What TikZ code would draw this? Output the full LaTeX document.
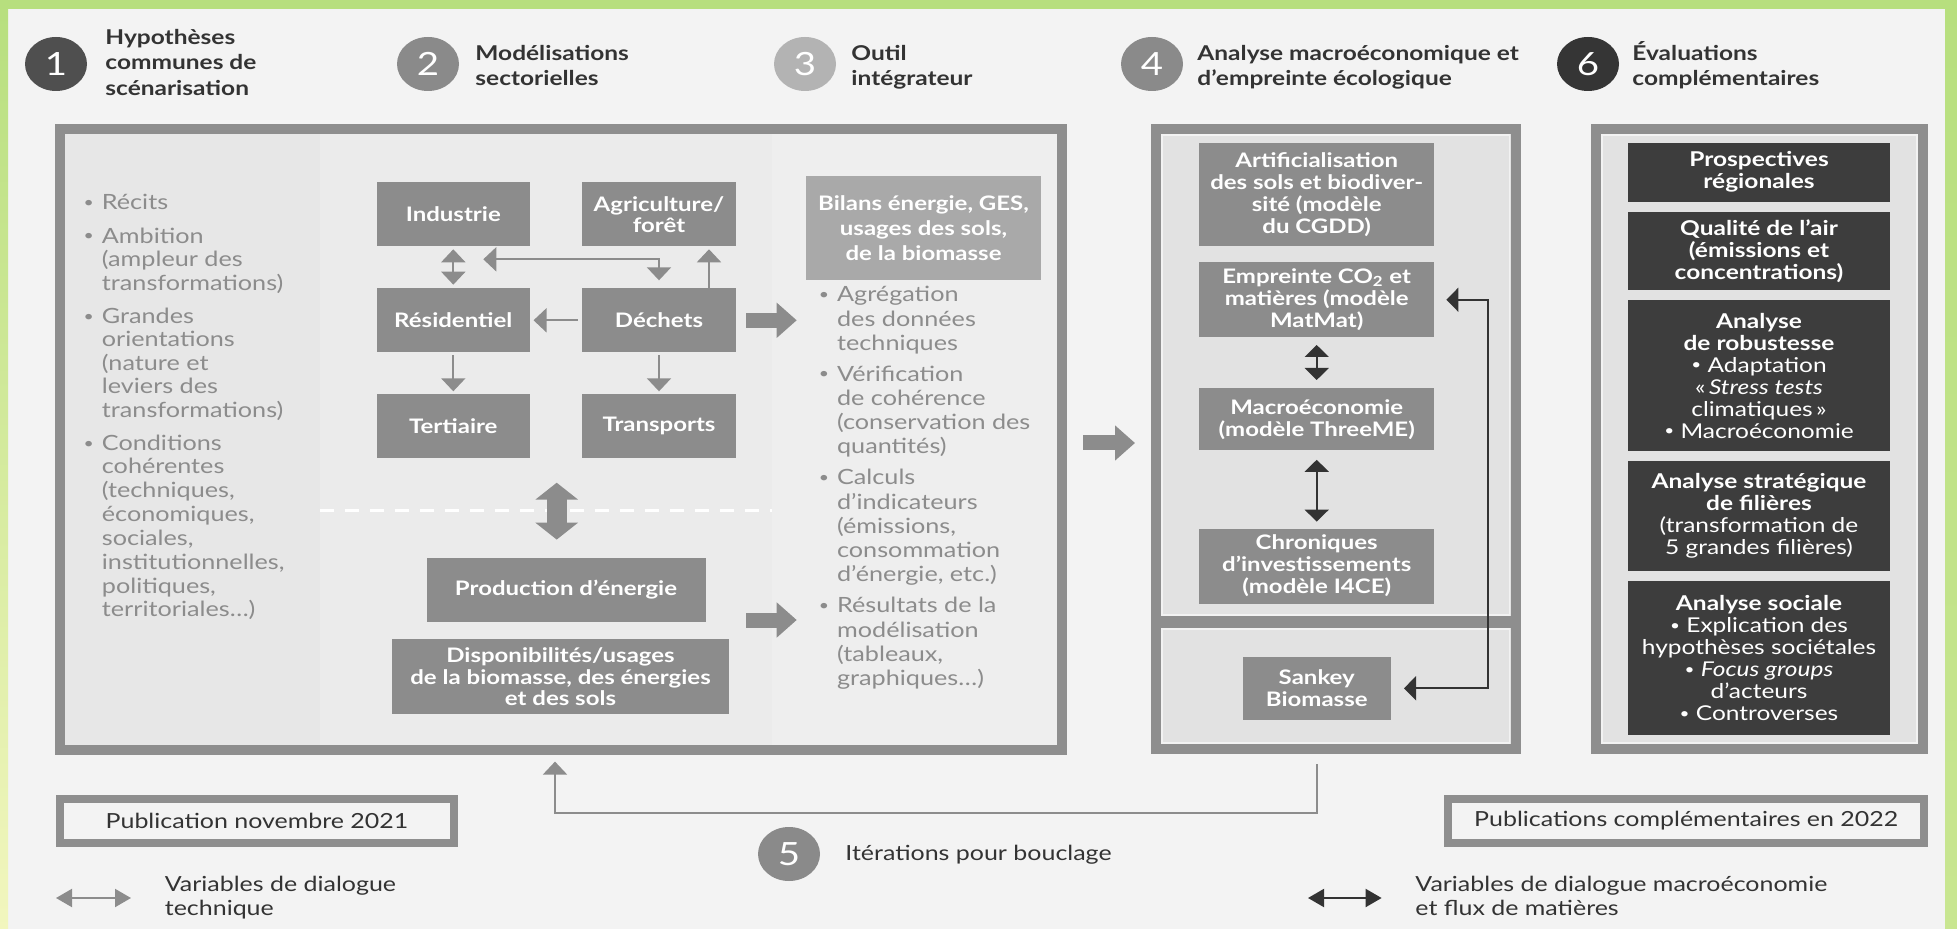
\documentclass[tikz,border=0pt]{standalone}
\usepackage{fontspec}
\setmainfont{Lato}[FakeStretch=1.2]
\usetikzlibrary{arrows.meta,shapes.geometric}
\definecolor{bggray}{HTML}{F3F3F3}
\definecolor{green1}{HTML}{B7DF7E}
\definecolor{yel1}{HTML}{F2F6BE}
\definecolor{framegray}{HTML}{8E8E8E}
\definecolor{boxgray}{HTML}{8C8C8C}
\definecolor{lightbox}{HTML}{A9A9A9}
\definecolor{darkbox}{HTML}{3D3D3D}
\definecolor{listgray}{HTML}{8C8C8C}
\definecolor{headtext}{HTML}{333333}
\definecolor{inner1}{HTML}{EBEBEB}
\definecolor{innerL}{HTML}{E7E7E7}
\definecolor{innerR}{HTML}{EEEEEE}
\definecolor{inner4}{HTML}{E2E2E2}
\definecolor{innerline}{HTML}{F2F2F2}
\definecolor{darkarrow}{HTML}{333333}
\definecolor{c1col}{HTML}{4F4F4F}
\definecolor{c2col}{HTML}{8A8A8A}
\definecolor{c3col}{HTML}{B3B3B3}
\definecolor{c6col}{HTML}{353535}
\newcommand{\fs}[2]{\fontsize{#1}{#2}\selectfont}
\newcommand{\bul}{\raisebox{0.12em}{\scalebox{0.7}{•}}}
\newcommand{\lb}{\llap{\bul\hspace{4pt}}}
\begin{document}
\begin{tikzpicture}[x=0.5pt,y=-0.5pt,
  numcirc/.style={ellipse, minimum width=31pt, minimum height=27pt, inner sep=0pt, text=white, font=\fs{16}{16}},
  headtxt/.style={anchor=base west, inner sep=0pt, text=headtext, font=\bfseries\fs{10.2}{12}},
  lst/.style={anchor=base west, inner sep=0pt, text=listgray, font=\fs{10.5}{12}},
  legtxt/.style={anchor=base west, inner sep=0pt, text=headtext, font=\fs{10.4}{12}},
  frame/.style={draw=framegray, line width=5pt, inner sep=0pt},
  pubbox/.style={draw=framegray, line width=4pt, inner sep=0pt, text=headtext, font=\fs{10.4}{12}, minimum height=21.85pt},
  box/.style={inner sep=0pt, align=center, text=white, font=\bfseries\fs{10}{10.8}},
  sect/.style={box, fill=boxgray, minimum width=76.65pt, minimum height=32pt},
  m4/.style={box, fill=boxgray, minimum width=117.7pt, font=\bfseries\fs{10}{11}},
  d6/.style={box, fill=darkbox, minimum width=131pt, font=\fs{10.2}{11}},
  garr/.style={draw=boxgray, line width=1pt, >={Triangle[width=12pt,length=6.5pt]}},
  darr/.style={draw=darkarrow, line width=1pt, >={Triangle[width=12pt,length=6pt]}},
  boldarr/.style={draw=boxgray, line width=7.5pt, -{Triangle[width=17pt,length=10pt]}},
  bigdbl/.style={draw=boxgray, line width=10pt, {Triangle[width=21pt,length=8.5pt]}-{Triangle[width=21pt,length=8.5pt]}}
]
% background and green frame
\fill[bggray] (0,0) rectangle (1957,929);
\useasboundingbox (0,0) rectangle (1957,929);
\shade[top color=green1, bottom color=yel1] (0,0) rectangle (8,929);
\shade[top color=green1, bottom color=green1!70!yel1] (1945,0) rectangle (1957,929);
\fill[green1] (0,0) rectangle (1957,9);

% header
\node[numcirc, fill=c1col] (c1) at (56,64) {1};
\node[headtxt] (h1a) at (105,44.5) {Hypothèses};
\node[headtxt] (h1b) at (105,70) {communes de};
\node[headtxt] (h1c) at (105,95.5) {scénarisation};
\node[numcirc, fill=c2col] (c2) at (428,64) {2};
\node[headtxt] (h2a) at (475,60.5) {Modélisations};
\node[headtxt] (h2b) at (475,86) {sectorielles};
\node[numcirc, fill=c3col] (c3) at (805,64) {3};
\node[headtxt] (h3a) at (851,60.5) {Outil};
\node[headtxt] (h3b) at (851,86) {intégrateur};
\node[numcirc, fill=c2col] (c4) at (1152,64) {4};
\node[headtxt] (h4a) at (1197,60.5) {Analyse macroéconomique et};
\node[headtxt] (h4b) at (1197,86) {d’empreinte écologique};
\node[numcirc, fill=c6col] (c6) at (1588,64) {6};
\node[headtxt] (h6a) at (1632,60.5) {Évaluations};
\node[headtxt] (h6b) at (1632,86) {complémentaires};

% big box
\node[frame, fill=inner1, minimum width=501pt, minimum height=310.5pt] (bb) at (561,439.5) {};
\fill[innerL] (65,134) rectangle (320,745);
\fill[innerR] (772,134) rectangle (1057,745);

% box 4 and box 6
\node[frame, fill=inner4, minimum width=179.75pt, minimum height=310pt] (b4) at (1335.75,439) {};
\draw[innerline, line width=0.8pt] (1162,135) rectangle (1509.5,615);
\draw[innerline, line width=0.8pt] (1162,629) rectangle (1509.5,743);
\draw[framegray, line width=6pt] (1151,622) -- (1520.5,622);
\node[frame, fill=inner4, minimum width=163.5pt, minimum height=310pt] (b6) at (1759.5,439) {};
\draw[innerline, line width=0.8pt] (1602,135) rectangle (1917,743);

% left list
\foreach \yy/\txt [count=\i] in {210/{\lb Récits}, 243.4/{\lb Ambition}, 266.8/{(ampleur des}, 290.2/{transformations)},
  323.6/{\lb Grandes}, 347/{orientations}, 370.4/{(nature et}, 393.8/{leviers des}, 417.2/{transformations)},
  450.6/{\lb Conditions}, 474/{cohérentes}, 497.8/{(techniques,}, 521.6/{économiques,}, 545.4/{sociales,},
  569.2/{institutionnelles,}, 593/{politiques,}, 616.8/{territoriales…)}}
  \node[lst] (L\i) at (101.5,\yy) {\txt};

% outil list
\foreach \yy/\txt [count=\i] in {302/{\lb Agrégation}, 326.2/{des données}, 350.4/{techniques},
  381.4/{\lb Vérification}, 405.6/{de cohérence}, 429.8/{(conservation des}, 454/{quantités)},
  485/{\lb Calculs}, 509.2/{d’indicateurs}, 533.4/{(émissions,}, 557.6/{consommation}, 581.8/{d’énergie, etc.)},
  612.8/{\lb Résultats de la}, 637/{modélisation}, 661.2/{(tableaux,}, 685.4/{graphiques…)}}
  \node[lst] (R\i) at (836.7,\yy) {\txt};

% sector boxes
\node[sect] (ind) at (453.3,214.5) {Industrie};
\node[sect] (agri) at (659,214.5) {Agriculture/\\forêt};
\node[sect] (res) at (453.3,320.3) {Résidentiel};
\node[sect] (dech) at (659,320.3) {Déchets};
\node[sect] (ter) at (453.3,426.3) {Tertiaire};
\node[sect] (tra) at (659,426.3) {Transports};
\node[sect, minimum width=139.5pt] (prod) at (566,590) {Production d’énergie};
\node[sect, minimum width=168.5pt, minimum height=37.5pt] (dispo) at (560.5,676.8) {Disponibilités/usages\\de la biomasse, des énergies\\et des sols};
\node[box, fill=lightbox, minimum width=117.5pt, minimum height=51.85pt, font=\bfseries\fs{10}{12.5}] (bil) at (923.5,227.8) {Bilans énergie, GES,\\usages des sols,\\de la biomasse};

% dashed separator
\draw[white, line width=1.5pt, dash pattern=on 7pt off 5.5pt] (320,511) -- (772,511);

% sector arrows
\draw[garr,<->, shorten <=1.2pt, shorten >=1.6pt] (ind.south) -- (res.north);
\coordinate (elbL) at (483.3,259.3);
\draw[garr,<->, shorten <=3.8pt] (dech.north) |- (elbL);
\draw[garr,->, shorten >=1.2pt] ([xshift=25pt]dech.north) -- ([xshift=25pt]agri.south);
\draw[garr,->, shorten <=2pt, shorten >=1.6pt] (dech.west) -- (res.east);
\draw[garr,->, shorten <=1.4pt, shorten >=1.3pt] (res.south) -- (ter.north);
\draw[garr,->, shorten <=1.4pt, shorten >=1.3pt] (dech.south) -- (tra.north);
\coordinate (bdt) at (556.7,482.7);
\draw[bigdbl, shorten >=9pt] (bdt) -- (prod.north -| bdt);

% bold arrows
\coordinate (b1e) at (796.7,320.3);
\draw[boldarr, shorten <=5.15pt] (dech.east) -- (b1e);
\coordinate (b2s) at (746,620);
\coordinate (b2e) at (796.7,620);
\draw[boldarr] (b2s) -- (b2e);
\coordinate (b3y) at (0,443);
\draw[boldarr, shorten <=8pt, shorten >=8pt] (bb.east |- b3y) -- (b4.west |- b3y);

% box 4 content
\node[m4, minimum height=51.55pt] (art) at (1316.7,194.85) {Artificialisation\\des sols et biodiver-\\sité (modèle\\du CGDD)};
\node[m4, minimum height=37.75pt] (emp) at (1316.7,299.75) {Empreinte CO\textsubscript{2} et\\matières (modèle\\MatMat)};
\node[m4, minimum height=31.2pt] (mac) at (1316.7,419.2) {Macroéconomie\\(modèle ThreeME)};
\node[m4, minimum height=37.5pt] (chr) at (1316.7,566.1) {Chroniques\\d’investissements\\(modèle I4CE)};
\node[box, fill=boxgray, minimum width=73.85pt, minimum height=31.3pt] (sank) at (1316.75,688.3) {Sankey\\Biomasse};
\draw[darr,<->, shorten <=3.55pt, shorten >=3.8pt] (emp.south) -- (mac.north);
\draw[darr,<->, shorten <=4.5pt, shorten >=3.3pt] (mac.south) -- (chr.north);
\coordinate (elbx) at (1487.5,0);
\draw[darr,<->, shorten <=5.8pt, shorten >=6.5pt] (emp.east) -- (emp.east -| elbx) |- (sank.east);

% box 6 content
\node[d6, minimum height=29.45pt] (pro) at (1759,172.25) {\textbf{Prospectives}\\\textbf{régionales}};
\node[d6, minimum height=39pt] (qua) at (1759,251) {\textbf{Qualité de l’air}\\\textbf{(émissions et}\\\textbf{concentrations)}};
\node[d6, minimum height=75.1pt] (rob) at (1759,375.6) {\textbf{Analyse}\\\textbf{de robustesse}\\\bul\ Adaptation\\«\,\textit{Stress tests}\\climatiques\,»\\\bul\ Macroéconomie};
\node[d6, minimum height=55.25pt] (str) at (1759,516.25) {\textbf{Analyse stratégique}\\\textbf{de filières}\\(transformation de\\5 grandes filières)};
\node[d6, minimum height=77pt] (soc) at (1759,658.4) {\textbf{Analyse sociale}\\\bul\ Explication des\\hypothèses sociétales\\\bul\ \textit{Focus groups}\\d’acteurs\\\bul\ Controverses};

% loop (5)
\coordinate (loopL) at (555,812.7);
\draw[garr,->, shorten <=5pt, shorten >=3.3pt] (b4.south -| sank.center) |- (loopL) -- (bb.south -| loopL);
\node[numcirc, fill=c2col] (c5) at (789,854) {5};
\node[legtxt] (it5) at (845,860) {Itérations pour bouclage};

% legend
\node[pubbox, minimum width=197pt] (pub1) at (257,820.85) {Publication novembre 2021};
\node[pubbox, minimum width=237.8pt] (pub2) at (1686.2,820.85) {Publications complémentaires en 2022};
\coordinate (la1) at (56,898);
\coordinate (la2) at (131,898);
\draw[draw=boxgray, line width=1pt, {Triangle[width=9pt,length=8pt]}-{Triangle[width=9pt,length=8pt]}] (la1) -- (la2);
\node[legtxt] (lt1a) at (164.5,891) {Variables de dialogue};
\node[legtxt] (lt1b) at (164.5,915) {technique};
\coordinate (ld1) at (1308,898);
\coordinate (ld2) at (1381.6,898);
\draw[draw=darkarrow, line width=1pt, {Triangle[width=9pt,length=8pt]}-{Triangle[width=9pt,length=8pt]}] (ld1) -- (ld2);
\node[legtxt] (lt2a) at (1415,891) {Variables de dialogue macroéconomie};
\node[legtxt] (lt2b) at (1415,915) {et flux de matières};
\end{tikzpicture}
\end{document}
